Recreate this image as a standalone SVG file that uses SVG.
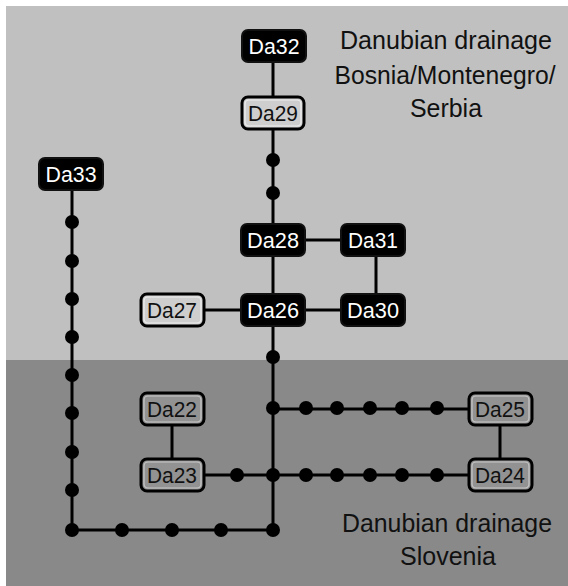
<svg xmlns="http://www.w3.org/2000/svg" width="568" height="586" viewBox="0 0 568 586">
  <style>
    .edge { stroke: #000; stroke-width: 3; fill: none; }
    .dot { fill: #000; }
    .dark rect.box { fill: #000; stroke: #111; stroke-width: 2; }
    .dark text { fill: #fff; }
    .light rect.box { fill: #cecece; stroke: #000; stroke-width: 3; }
    .lowlight rect.box { fill: #929292; stroke: #000; stroke-width: 3; }
    rect.inner { fill: none; stroke: #eee; stroke-width: 1.2; }
    .lowlight rect.inner { stroke: #c8c8c8; }
    .node text { font-family: "Liberation Sans", Arial, sans-serif; font-size: 22px; text-anchor: middle; }
    .light text, .lowlight text { fill: #111; }
    .region { font-family: "Liberation Sans", Arial, sans-serif; font-size: 26px; fill: #111; text-anchor: middle; }
  </style>

  <!-- background regions -->
  <rect x="0" y="0" width="568" height="586" fill="#ffffff"/>
  <rect x="6" y="6" width="562" height="354" fill="#c0c0c0"/>
  <rect x="6" y="360" width="562" height="226" fill="#898989"/>

  <!-- region labels -->
  <text class="region" x="446" y="49" textLength="212" lengthAdjust="spacingAndGlyphs">Danubian drainage</text>
  <text class="region" x="445" y="84" textLength="221" lengthAdjust="spacingAndGlyphs">Bosnia/Montenegro/</text>
  <text class="region" x="446" y="117" textLength="72" lengthAdjust="spacingAndGlyphs">Serbia</text>
  <text class="region" x="447" y="532" textLength="210" lengthAdjust="spacingAndGlyphs">Danubian drainage</text>
  <text class="region" x="448" y="565" textLength="96" lengthAdjust="spacingAndGlyphs">Slovenia</text>

  <!-- connectors -->
  <g id="connectors">
    <path class="edge" d="M273 46 V475 V530 H72 V174"/>
    <path class="edge" d="M172 310 H376 V240 H273"/>
    <path class="edge" d="M172 409 V475 H500 V409 H273"/>
    <g class="dot">
      <circle cx="273" cy="160" r="7"/>
      <circle cx="273" cy="193" r="7"/>
      <circle cx="273" cy="357" r="7"/>
      <circle cx="72" cy="222" r="7"/>
      <circle cx="72" cy="261" r="7"/>
      <circle cx="72" cy="299" r="7"/>
      <circle cx="72" cy="337" r="7"/>
      <circle cx="72" cy="375" r="7"/>
      <circle cx="72" cy="413" r="7"/>
      <circle cx="72" cy="452" r="7"/>
      <circle cx="72" cy="490" r="7"/>
      <circle cx="72" cy="530" r="7"/>
      <circle cx="122" cy="530" r="7"/>
      <circle cx="172" cy="530" r="7"/>
      <circle cx="221" cy="530" r="7"/>
      <circle cx="273" cy="530" r="7"/>
      <circle cx="273" cy="408" r="7"/>
      <circle cx="306" cy="408" r="7"/>
      <circle cx="337" cy="408" r="7"/>
      <circle cx="370" cy="408" r="7"/>
      <circle cx="402" cy="408" r="7"/>
      <circle cx="437" cy="408" r="7"/>
      <circle cx="237" cy="475" r="7"/>
      <circle cx="273" cy="475" r="7"/>
      <circle cx="306" cy="475" r="7"/>
      <circle cx="337" cy="475" r="7"/>
      <circle cx="370" cy="475" r="7"/>
      <circle cx="402" cy="475" r="7"/>
      <circle cx="437" cy="475" r="7"/>
    </g>
  </g>

  <!-- nodes -->
  <g id="Da32" class="node dark"><rect class="box" x="242" y="30" width="64" height="32" rx="6"/><text x="274" y="54" textLength="51" lengthAdjust="spacingAndGlyphs">Da32</text></g>
  <g id="Da29" class="node light"><rect class="box" x="242" y="97" width="62" height="32" rx="6"/><rect class="inner" x="245" y="100" width="56" height="26" rx="4"/><text x="273" y="121" textLength="50" lengthAdjust="spacingAndGlyphs">Da29</text></g>
  <g id="Da33" class="node dark"><rect class="box" x="39" y="158" width="64" height="32" rx="6"/><text x="71" y="182" textLength="51" lengthAdjust="spacingAndGlyphs">Da33</text></g>
  <g id="Da28" class="node dark"><rect class="box" x="241" y="224" width="64" height="32" rx="6"/><text x="273" y="248" textLength="52" lengthAdjust="spacingAndGlyphs">Da28</text></g>
  <g id="Da31" class="node dark"><rect class="box" x="341" y="224" width="64" height="32" rx="6"/><text x="373" y="248" textLength="50" lengthAdjust="spacingAndGlyphs">Da31</text></g>
  <g id="Da27" class="node light"><rect class="box" x="141" y="294" width="63" height="32" rx="6"/><rect class="inner" x="144" y="297" width="57" height="26" rx="4"/><text x="172" y="318" textLength="50" lengthAdjust="spacingAndGlyphs">Da27</text></g>
  <g id="Da26" class="node dark"><rect class="box" x="241" y="294" width="64" height="32" rx="6"/><text x="273" y="318" textLength="52" lengthAdjust="spacingAndGlyphs">Da26</text></g>
  <g id="Da30" class="node dark"><rect class="box" x="341" y="294" width="64" height="32" rx="6"/><text x="373" y="318" textLength="52" lengthAdjust="spacingAndGlyphs">Da30</text></g>
  <g id="Da22" class="node lowlight"><rect class="box" x="141" y="393" width="63" height="32" rx="6"/><rect class="inner" x="144" y="396" width="57" height="26" rx="4"/><text x="172" y="417" textLength="50" lengthAdjust="spacingAndGlyphs">Da22</text></g>
  <g id="Da23" class="node lowlight"><rect class="box" x="141" y="459" width="63" height="32" rx="6"/><rect class="inner" x="144" y="462" width="57" height="26" rx="4"/><text x="172" y="483" textLength="50" lengthAdjust="spacingAndGlyphs">Da23</text></g>
  <g id="Da25" class="node lowlight"><rect class="box" x="469" y="393" width="63" height="32" rx="6"/><rect class="inner" x="472" y="396" width="57" height="26" rx="4"/><text x="500" y="417" textLength="50" lengthAdjust="spacingAndGlyphs">Da25</text></g>
  <g id="Da24" class="node lowlight"><rect class="box" x="469" y="459" width="63" height="32" rx="6"/><rect class="inner" x="472" y="462" width="57" height="26" rx="4"/><text x="500" y="483" textLength="50" lengthAdjust="spacingAndGlyphs">Da24</text></g>
</svg>
